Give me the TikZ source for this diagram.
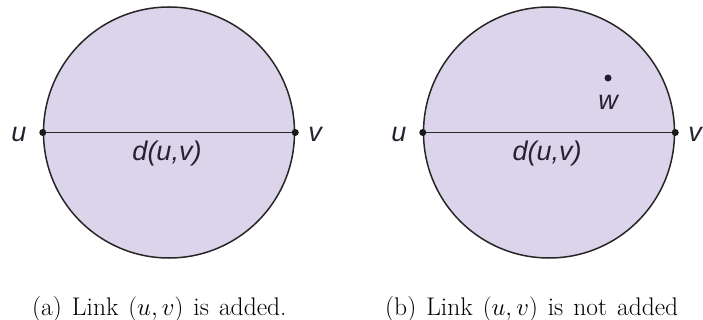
\documentclass[tikz,border=0pt]{standalone}
\usepackage{fontspec}
\setsansfont{Liberation Sans}
\begin{document}
\begin{tikzpicture}[x=1pt,y=-1pt,
  disk/.style={circle,draw=black!85,line width=1.5pt,fill=lav,minimum size=251pt,inner sep=0pt},
  pt/.style={circle,fill=black!90,minimum size=7pt,inner sep=0pt},
  wpt/.style={circle,fill=dotc,minimum size=7pt,inner sep=0pt},
  lab/.style={font=\sffamily\itshape\fontsize{27}{30}\selectfont,text=labc,inner sep=0pt},
  captext/.style={font=\fontsize{25.5}{30}\selectfont,anchor=base west,inner sep=0pt},
  chord/.style={draw=black!85,line width=1.3pt}]
\definecolor{lav}{RGB}{220,212,234}
\definecolor{labc}{RGB}{38,34,48}
\definecolor{dotc}{RGB}{36,26,56}
\useasboundingbox (0,0) rectangle (703,320);
% (a)
\node[disk] (A) at (169,132.5) {};
\draw[chord] (A.west) -- (A.east);
\node[pt] (ua) at (A.west) {};
\node[pt] (va) at (A.east) {};
\node[lab] (ula) at (19,134) {u};
\node[lab] (vla) at (315,134) {v};
\node[lab] (da) at (167,154) {d(u,v)};
\node[captext] (capa) at (32,315) {\spaceskip=10pt (a) Link $(u,v)$ is added.};
% (b)
\node[disk] (B) at (549,132.5) {};
\draw[chord] (B.west) -- (B.east);
\node[pt] (ub) at (B.west) {};
\node[pt] (vb) at (B.east) {};
\node[wpt] (w) at (608,78) {};
\node[lab] (wl) at (608,102) {w};
\node[lab] (ulb) at (399,134) {u};
\node[lab] (vlb) at (695,134) {v};
\node[lab] (db) at (547,154) {d(u,v)};
\node[captext] (capb) at (385,315) {\spaceskip=10pt (b) Link $(u,v)$ is not added};
\end{tikzpicture}
\end{document}
